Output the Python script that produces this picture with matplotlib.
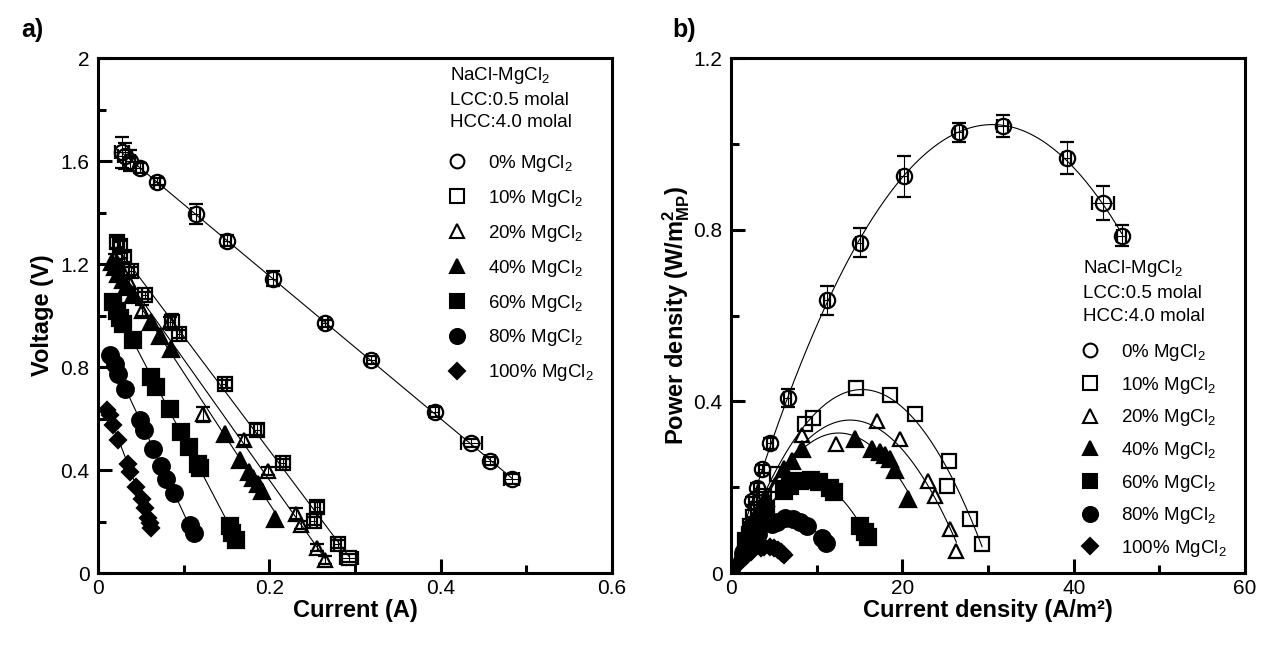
import numpy as np
import matplotlib
matplotlib.use('Agg')
import matplotlib.pyplot as plt
from matplotlib.lines import Line2D
from matplotlib.ticker import MultipleLocator, FuncFormatter

plt.rcParams['font.family'] = ['Liberation Sans', 'DejaVu Sans']
plt.rcParams['mathtext.fontset'] = 'custom'
plt.rcParams['mathtext.rm'] = 'Liberation Sans'
plt.rcParams['mathtext.bf'] = 'Liberation Sans:bold'
plt.rcParams['mathtext.it'] = 'Liberation Sans:italic'
plt.rcParams['mathtext.default'] = 'rm'

# ---- data, panel a: current (A) vs voltage (V) ----
Ia0 = [0.028, 0.032, 0.038, 0.049, 0.069, 0.114, 0.151, 0.204, 0.265, 0.319, 0.393, 0.436, 0.458, 0.483]
Va0 = [1.634, 1.620, 1.602, 1.572, 1.520, 1.394, 1.291, 1.143, 0.969, 0.826, 0.624, 0.504, 0.435, 0.364]
Va0_err = [0.06, 0.05, 0.04, 0.02, 0.015, 0.04, 0.02, 0.03, 0.015, 0.015, 0.02, 0.015, 0.015, 0.02]
Ia0_err = [0.008, 0.008, 0.005, 0.004, 0.004, 0.005, 0.004, 0.005, 0.004, 0.005, 0.005, 0.012, 0.006, 0.009]

Ia10 = [0.022, 0.026, 0.031, 0.039, 0.055, 0.086, 0.095, 0.148, 0.186, 0.216, 0.256, 0.252, 0.280, 0.293]
Va10 = [1.284, 1.271, 1.226, 1.174, 1.078, 0.974, 0.929, 0.735, 0.557, 0.428, 0.256, 0.203, 0.112, 0.057]
Va10_err = [0.02, 0.02, 0.02, 0.015, 0.015, 0.03, 0.015, 0.015, 0.02, 0.015, 0.02, 0.015, 0.015, 0.015]
Ia10_err = [0.003, 0.003, 0.003, 0.003, 0.003, 0.004, 0.003, 0.003, 0.004, 0.004, 0.003, 0.004, 0.004, 0.010]

Ia20 = [0.020, 0.024, 0.029, 0.036, 0.051, 0.084, 0.123, 0.171, 0.198, 0.231, 0.237, 0.256, 0.265]
Va20 = [1.220, 1.200, 1.170, 1.130, 1.019, 0.974, 0.616, 0.516, 0.395, 0.231, 0.186, 0.099, 0.050]
Va20_err = [0.02, 0.02, 0.02, 0.02, 0.02, 0.02, 0.03, 0.02, 0.015, 0.02, 0.015, 0.015, 0.015]

Ia40 = [0.016, 0.020, 0.024, 0.029, 0.033, 0.041, 0.062, 0.072, 0.085, 0.148, 0.166, 0.176, 0.181, 0.187, 0.192, 0.207]
Va40 = [1.207, 1.187, 1.162, 1.136, 1.110, 1.078, 0.974, 0.919, 0.871, 0.541, 0.438, 0.393, 0.370, 0.345, 0.318, 0.209]

Ia60 = [0.018, 0.022, 0.026, 0.029, 0.041, 0.062, 0.068, 0.084, 0.097, 0.106, 0.117, 0.119, 0.154, 0.157, 0.161]
Va60 = [1.052, 1.019, 0.991, 0.968, 0.903, 0.761, 0.722, 0.636, 0.548, 0.490, 0.425, 0.406, 0.182, 0.154, 0.128]

Ia80 = [0.014, 0.020, 0.024, 0.032, 0.049, 0.054, 0.064, 0.074, 0.080, 0.089, 0.107, 0.112]
Va80 = [0.845, 0.813, 0.774, 0.713, 0.593, 0.557, 0.483, 0.415, 0.367, 0.309, 0.186, 0.154]

Ia100 = [0.010, 0.014, 0.018, 0.024, 0.035, 0.038, 0.045, 0.051, 0.055, 0.059, 0.061, 0.062]
Va100 = [0.632, 0.612, 0.574, 0.518, 0.425, 0.393, 0.335, 0.287, 0.251, 0.212, 0.193, 0.173]

# ---- data, panel b: current density (A/m2) vs power density (W/m2 MP) ----
Jb0 = [0, 2.4, 3.0, 3.6, 4.55, 6.6, 11.2, 15.0, 20.2, 26.6, 31.7, 39.2, 43.4, 45.6]
Pb0 = [0, 0.168, 0.199, 0.242, 0.302, 0.407, 0.635, 0.770, 0.924, 1.027, 1.042, 0.967, 0.862, 0.786]
Pb0_err = [0, 0.01, 0.01, 0.01, 0.012, 0.021, 0.034, 0.033, 0.047, 0.022, 0.025, 0.038, 0.039, 0.025]
Jb0_err = [0, 0.3, 0.3, 0.3, 0.3, 0.4, 0.4, 0.4, 0.5, 0.5, 0.6, 0.5, 1.3, 0.5]

Jb10 = [0, 2.2, 2.6, 3.1, 3.9, 5.4, 8.6, 9.6, 14.6, 18.5, 21.5, 25.4, 25.2, 27.9, 29.3]
Pb10 = [0, 0.110, 0.130, 0.150, 0.180, 0.230, 0.347, 0.362, 0.432, 0.414, 0.370, 0.261, 0.203, 0.126, 0.068]

Jb20 = [0, 2.0, 2.4, 2.9, 3.6, 5.1, 8.3, 12.3, 17.0, 19.7, 23.0, 23.8, 25.6, 26.3]
Pb20 = [0, 0.096, 0.114, 0.134, 0.161, 0.204, 0.322, 0.300, 0.354, 0.312, 0.215, 0.180, 0.102, 0.052]

Jb40 = [0, 1.6, 2.0, 2.35, 2.9, 3.3, 4.1, 6.2, 7.15, 8.3, 14.5, 16.4, 17.4, 18.0, 18.5, 19.1, 20.7]
Pb40 = [0, 0.076, 0.093, 0.108, 0.132, 0.146, 0.175, 0.242, 0.262, 0.290, 0.313, 0.288, 0.281, 0.274, 0.265, 0.240, 0.172]

Jb60 = [0, 1.8, 2.2, 2.6, 2.95, 4.1, 6.2, 6.9, 8.1, 9.3, 10.3, 11.5, 12.0, 15.1, 15.6, 16.0]
Pb60 = [0, 0.074, 0.088, 0.100, 0.113, 0.148, 0.190, 0.203, 0.215, 0.217, 0.212, 0.198, 0.188, 0.110, 0.095, 0.083]

Jb80 = [0, 1.4, 2.0, 2.35, 3.2, 4.8, 5.4, 6.3, 7.2, 8.0, 8.9, 10.6, 11.1]
Pb80 = [0, 0.047, 0.064, 0.072, 0.091, 0.114, 0.120, 0.127, 0.126, 0.120, 0.110, 0.081, 0.070]

Jb100 = [0, 1.0, 1.4, 1.8, 2.35, 3.5, 3.8, 4.5, 5.05, 5.45, 5.8, 6.0, 6.2]
Pb100 = [0, 0.025, 0.034, 0.040, 0.048, 0.059, 0.060, 0.060, 0.058, 0.054, 0.049, 0.046, 0.043]

labels = ['0% MgCl$_2$', '10% MgCl$_2$', '20% MgCl$_2$', '40% MgCl$_2$',
          '60% MgCl$_2$', '80% MgCl$_2$', '100% MgCl$_2$']
header = 'NaCl-MgCl$_2$\nLCC:0.5 molal\nHCC:4.0 molal'

# styles
markers = ['o', 's', '^', '^', 's', 'o', 'D']
faces = ['none', 'none', 'none', 'k', 'k', 'k', 'k']
sizes = [11, 10.5, 10.5, 11, 11, 12, 8.5]

series_a = [(Ia0, Va0, Va0_err, Ia0_err), (Ia10, Va10, Va10_err, Ia10_err),
            (Ia20, Va20, Va20_err, None), (Ia40, Va40, None, None),
            (Ia60, Va60, None, None), (Ia80, Va80, None, None),
            (Ia100, Va100, None, None)]
series_b = [(Jb0, Pb0, Pb0_err, Jb0_err), (Jb10, Pb10, None, None),
            (Jb20, Pb20, None, None), (Jb40, Pb40, None, None),
            (Jb60, Pb60, None, None), (Jb80, Pb80, None, None),
            (Jb100, Pb100, None, None)]

fig = plt.figure(figsize=(12.67, 6.49), dpi=100)
axa = fig.add_axes([0.0773, 0.1171, 0.4057, 0.7935])
axb = fig.add_axes([0.5770, 0.1171, 0.4057, 0.7935])

def draw(ax, series, deg):
    for i, (x, y, ye, xe) in enumerate(series):
        p = np.polyfit(x, y, deg)
        xs = np.linspace(min(x), max(x), 200)
        ax.plot(xs, np.polyval(p, xs), color='k', lw=0.8, zorder=2)
        ax.errorbar(x, y, yerr=ye, xerr=xe, fmt=markers[i], ms=sizes[i],
                    mfc=faces[i], mec='k', mew=1.6, ecolor='k', elinewidth=0.8,
                    capsize=5, capthick=0.8, zorder=3)

draw(axa, series_a, 1)
draw(axb, series_b, 2)

fmt = FuncFormatter(lambda v, p: '%g' % round(v, 3))
for ax in (axa, axb):
    for s in ax.spines.values():
        s.set_linewidth(2.2)
    ax.tick_params(which='major', direction='in', length=10, width=2.2, labelsize=15, pad=4)
    ax.tick_params(axis='y', which='major', pad=6)
    ax.tick_params(which='minor', direction='in', length=6, width=2.2)
    ax.xaxis.set_major_formatter(fmt)
    ax.yaxis.set_major_formatter(fmt)
    handles = [Line2D([], [], marker=markers[i], ls='none', mfc=faces[i], mec='k',
                      mew=1.5, ms=sizes[i] * 0.9) for i in range(7)]
    if ax is axa:
        top, spacing, htop = 0.8155, 0.74, 0.987
    else:
        top, spacing, htop = 0.4485, 0.62, 0.612
    ax.legend(handles, labels, loc='upper left', bbox_to_anchor=(0.680, top),
              frameon=False, fontsize=13.5, handlelength=1.0, handletextpad=1.15,
              labelspacing=spacing, borderpad=0, borderaxespad=0)
    ax.text(0.685, htop, header, transform=ax.transAxes, fontsize=13.5,
            va='top', ha='left', linespacing=1.45)

axa.set_xlim(0, 0.6)
axa.set_ylim(0, 2)
axa.xaxis.set_major_locator(MultipleLocator(0.2))
axa.xaxis.set_minor_locator(MultipleLocator(0.1))
axa.yaxis.set_major_locator(MultipleLocator(0.4))
axa.yaxis.set_minor_locator(MultipleLocator(0.2))
axa.set_xlabel('Current (A)', fontsize=17, fontweight='bold', labelpad=1)
axa.set_ylabel('Voltage (V)', fontsize=17, fontweight='bold', labelpad=5)

axb.set_xlim(0, 60)
axb.set_ylim(0, 1.2)
axb.xaxis.set_major_locator(MultipleLocator(20))
axb.xaxis.set_minor_locator(MultipleLocator(10))
axb.yaxis.set_major_locator(MultipleLocator(0.4))
axb.yaxis.set_minor_locator(MultipleLocator(0.2))
axb.set_xlabel('Current density (A/m²)', fontsize=17, fontweight='bold', labelpad=1)
axb.set_ylabel(r'Power density (W/m$^{\mathbf{2}}_{\mathbf{MP}}$)', fontsize=17,
               fontweight='bold', labelpad=1)

fig.text(0.017, 0.954, 'a)', fontsize=18, fontweight='bold', va='center')
fig.text(0.531, 0.954, 'b)', fontsize=18, fontweight='bold', va='center')

fig.savefig('out.png', dpi=100)
